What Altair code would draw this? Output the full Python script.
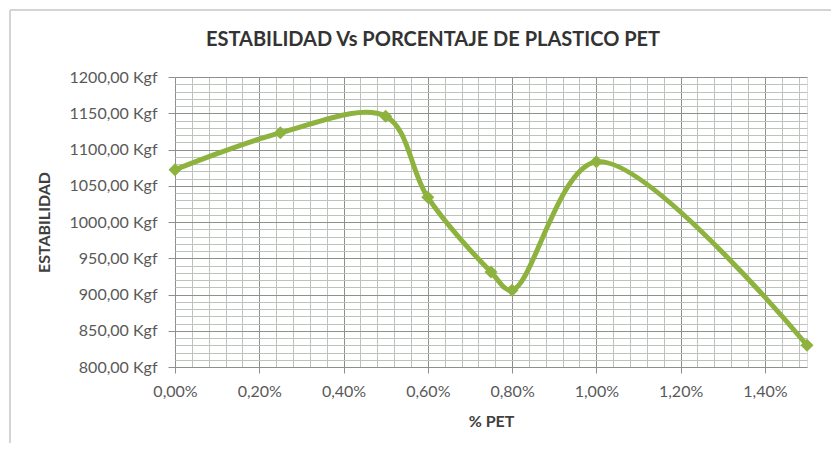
import altair as alt
import pandas as pd

pet_pct = [0.00, 0.25, 0.50, 0.60, 0.75, 0.80, 1.00, 1.50]
estabilidad = [1072, 1123, 1146, 1034, 931, 906, 1083, 830]

x_ticks = [round(i * 0.04, 2) for i in range(38)]
y_ticks = list(range(800, 1201, 10))

TITLE = "ESTABILIDAD Vs PORCENTAJE DE PLASTICO PET"

df = pd.DataFrame({"pct": pet_pct, "est": estabilidad})

GREEN = "#8db33e"
FONT = "Lato"
W, H = 632, 290
MAJOR = "#8c918c"
MINOR = "#bcc2bc"

x_test = "abs(round(datum.value*100)) % 20 === 0"
y_test = "datum.value % 50 === 0"

x_enc = alt.X(
    "pct:Q",
    scale=alt.Scale(domain=[0, 1.5], nice=False, zero=False),
    axis=alt.Axis(
        title="% PET",
        values=x_ticks,
        tickCount=200,
        labelExpr=x_test + " ? replace(format(datum.value, '.2f'), '.', ',') + '%' : ''",
        gridColor=alt.condition(x_test, alt.value(MAJOR), alt.value(MINOR)),
        tickOpacity=alt.condition(x_test, alt.value(1), alt.value(0)),
        tickColor=MAJOR,
        tickSize=6,
        labelPadding=10,
        labelFontSize=16,
        labelColor="#595959",
        labelFont=FONT,
        titleFont=FONT,
        titleFontSize=16,
        titleFontWeight="bold",
        titleColor="#404040",
        titleY=46,
        domain=False,
        labelFlush=False,
        labelOverlap=False,
    ),
)

y_enc = alt.Y(
    "est:Q",
    scale=alt.Scale(domain=[800, 1200], nice=False, zero=False),
    axis=alt.Axis(
        title="ESTABILIDAD",
        values=y_ticks,
        tickCount=200,
        labelExpr=y_test + " ? replace(format(datum.value, '.2f'), '.', ',') + ' Kgf' : ''",
        gridColor=alt.condition(y_test, alt.value(MAJOR), alt.value(MINOR)),
        tickOpacity=alt.condition(y_test, alt.value(1), alt.value(0)),
        tickColor=MAJOR,
        tickSize=7,
        labelPadding=11,
        labelFontSize=16,
        labelColor="#595959",
        labelFont=FONT,
        titleFont=FONT,
        titleFontSize=16,
        titleFontWeight="bold",
        titleColor="#404040",
        titleX=-123,
        titleY=H / 2,
        domain=False,
        labelOverlap=False,
    ),
)

base = alt.Chart(df)

line = base.mark_line(
    interpolate="catmull-rom", color=GREEN, strokeWidth=5
).encode(x=x_enc, y=y_enc)

points = base.mark_point(
    shape="diamond", filled=True, color=GREEN, size=170, opacity=1
).encode(x="pct:Q", y="est:Q")

one = alt.Chart(alt.Data(values=[{"k": 1}]))
frame_left = one.mark_rule(color="#d4d4d4", strokeWidth=2, clip=False).encode(
    x=alt.value(-165), y=alt.value(-67), y2=alt.value(H + 80)
)
frame_top = one.mark_rule(color="#d4d4d4", strokeWidth=2, clip=False).encode(
    y=alt.value(-67), x=alt.value(-165), x2=alt.value(W + 30)
)
title_txt = one.mark_text(
    text=TITLE, font=FONT, fontSize=20, fontWeight="bold", color="#333333",
    align="center", baseline="middle", clip=False,
).encode(x=alt.value(258), y=alt.value(-37))

chart = (
    alt.layer(frame_left, frame_top, title_txt, line, points)
    .properties(
        width=W,
        height=H,
        autosize=alt.AutoSizeParams(type="none"),
        padding={"left": 167, "top": 69, "right": 24, "bottom": 76},
    )
    .configure_view(fill="#eef2ec", stroke="#9a9f9a", strokeWidth=1)
    .configure(background="white")
)

chart.save("out.html", embed_options={"renderer": "svg", "actions": False})
